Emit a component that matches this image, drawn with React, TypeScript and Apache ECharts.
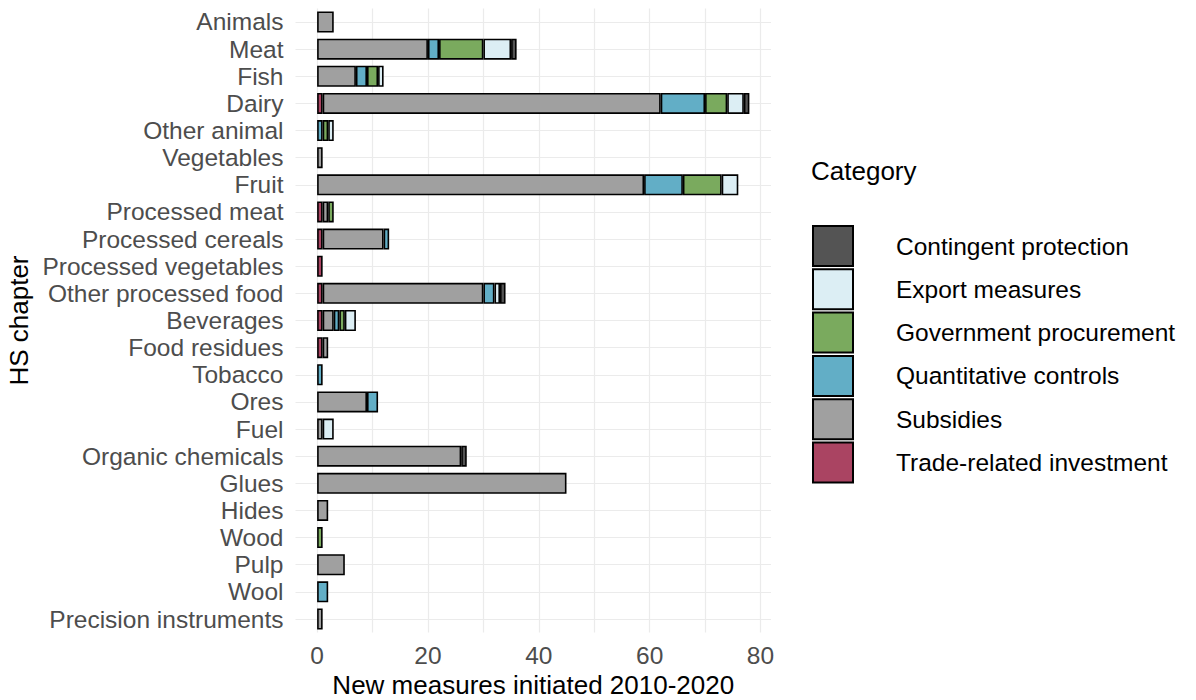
import React, { useEffect, useRef } from 'react';
import * as echarts from 'echarts';

const categories = [
  'Animals', 'Meat', 'Fish', 'Dairy', 'Other animal', 'Vegetables', 'Fruit',
  'Processed meat', 'Processed cereals', 'Processed vegetables', 'Other processed food',
  'Beverages', 'Food residues', 'Tobacco', 'Ores', 'Fuel', 'Organic chemicals',
  'Glues', 'Hides', 'Wood', 'Pulp', 'Wool', 'Precision instruments',
];

const tradeRelated = [0, 0, 0, 1, 0, 0, 0, 1, 1, 1, 1, 1, 1, 0, 0, 0, 0, 0, 0, 0, 0, 0, 0];
const subsidies = [3, 20, 7, 61, 0, 1, 59, 1, 11, 0, 29, 2, 1, 0, 9, 1, 26, 45, 2, 0, 5, 0, 1];
const quantitative = [0, 2, 2, 8, 1, 0, 7, 0, 1, 0, 2, 1, 0, 1, 2, 0, 0, 0, 0, 0, 0, 2, 0];
const procurement = [0, 8, 2, 4, 1, 0, 7, 1, 0, 0, 0, 1, 0, 0, 0, 0, 0, 0, 0, 1, 0, 0, 0];
const exportMeasures = [0, 5, 1, 3, 1, 0, 3, 0, 0, 0, 1, 2, 0, 0, 0, 2, 0, 0, 0, 0, 0, 0, 0];
const contingent = [0, 1, 0, 1, 0, 0, 0, 0, 0, 0, 1, 0, 0, 0, 0, 0, 1, 0, 0, 0, 0, 0, 0];

const seriesNames = [
  'Trade-related investment', 'Subsidies', 'Quantitative controls',
  'Government procurement', 'Export measures', 'Contingent protection',
];
const legendOrder = [
  'Contingent protection', 'Export measures', 'Government procurement',
  'Quantitative controls', 'Subsidies', 'Trade-related investment',
];
const xTickLabels = [0, 20, 40, 60, 80];

export default function App() {
  const ref = useRef<HTMLDivElement>(null);
  useEffect(() => {
    const chart = echarts.init(ref.current as HTMLDivElement, null, { renderer: 'svg' });
    const font = '"Liberation Sans", Arial, sans-serif';
    const values = [tradeRelated, subsidies, quantitative, procurement, exportMeasures, contingent];
    const colors = ['#AA4462', '#A0A0A0', '#62AEC6', '#7AAA5E', '#DCEEF4', '#545454'];
    const grid = { color: '#EBEBEB', width: 1.2 };
    chart.setOption({
      animation: false,
      textStyle: { fontFamily: font },
      title: {
        text: 'Category', left: 811, top: 158, padding: 0,
        textStyle: { fontSize: 26, fontWeight: 'normal', color: '#000', fontFamily: font },
      },
      legend: {
        orient: 'vertical', left: 812, top: 225, padding: 0,
        itemWidth: 40, itemHeight: 40, itemGap: 1.3,
        data: legendOrder, icon: 'rect', selectedMode: false,
        textStyle: { fontSize: 24.5, color: '#000', fontFamily: font, padding: [0, 0, 0, 38] },
      },
      grid: {
        left: 295.5, top: 8.43, width: 475.5, height: 624.14,
        containLabel: false, outerBoundsMode: 'none',
      },
      xAxis: {
        type: 'value', min: -3.9, max: 81.9, minInterval: 10, maxInterval: 10,
        splitLine: { show: true, showMinLine: false, showMaxLine: false, lineStyle: grid },
        axisLine: { show: false }, axisTick: { show: false },
        axisLabel: {
          showMinLabel: false, showMaxLabel: false,
          formatter: (v: number) => (xTickLabels.includes(v) ? String(v) : ''),
          fontSize: 24.5, color: '#4D4D4D', margin: 10, fontFamily: font,
        },
        name: 'New measures initiated 2010-2020', nameLocation: 'middle', nameGap: 39,
        nameTextStyle: { fontSize: 26, lineHeight: 26, color: '#000', fontFamily: font },
      },
      yAxis: [
        {
          type: 'category', data: categories, inverse: true,
          axisLine: { show: false }, axisTick: { show: false }, splitLine: { show: false },
          axisLabel: { interval: 0, fontSize: 24.5, color: '#4D4D4D', margin: 12, fontFamily: font },
          name: 'HS chapter', nameLocation: 'middle', nameGap: 264, nameRotate: 90,
          nameTextStyle: { fontSize: 26, color: '#000', fontFamily: font },
        },
        {
          type: 'value', min: -0.5, max: 22.5, minInterval: 1, maxInterval: 1,
          axisLabel: { show: false }, axisLine: { show: false }, axisTick: { show: false },
          splitLine: { show: true, showMinLine: false, showMaxLine: false, lineStyle: grid },
        },
      ],
      series: seriesNames.map((name, i) => ({
        name, type: 'bar', stack: 'total', yAxisIndex: 0, barWidth: 21,
        data: values[i].map((v) => (v === 0 ? null : v)),
        itemStyle: { color: colors[i], borderColor: '#000', borderWidth: 1.6 },
        emphasis: { disabled: true },
      })),
    });
    return () => chart.dispose();
  }, []);
  return (
    <div
      ref={ref}
      style={{ position: 'fixed', left: 0, top: 0, width: 1196, height: 700, background: '#fff' }}
    />
  );
}
